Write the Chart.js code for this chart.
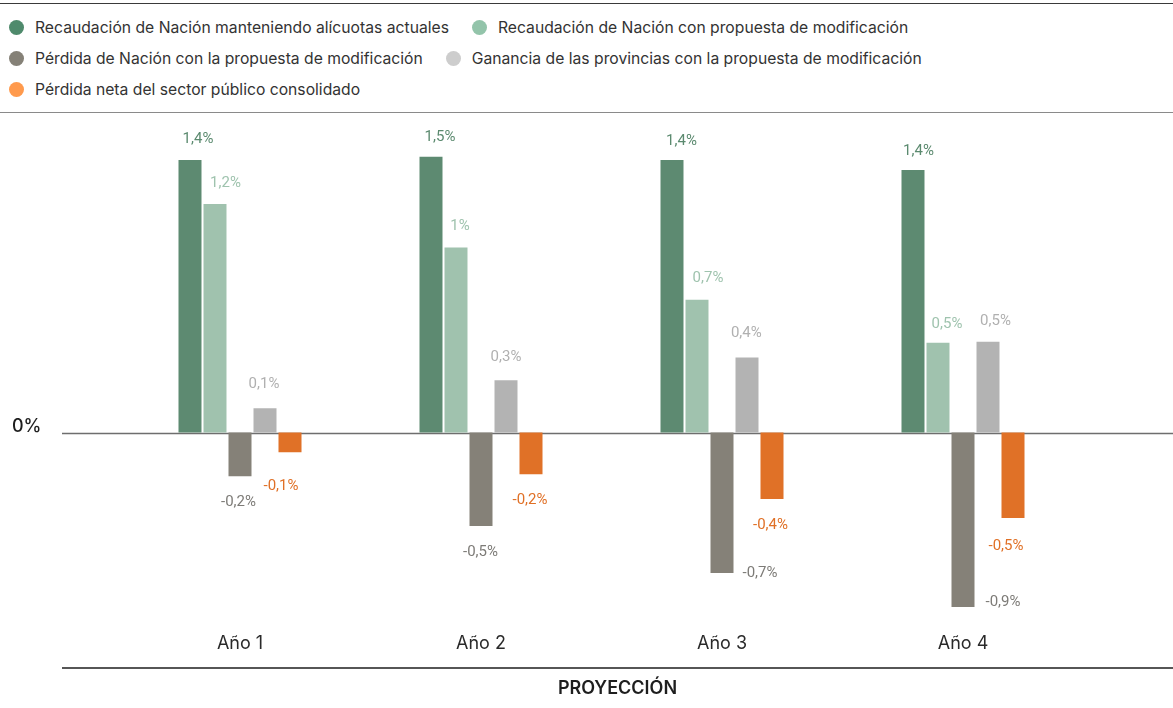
<!DOCTYPE html>
<html lang="es">
<head>
<meta charset="utf-8">
<title>Proyección de recaudación</title>
<script src="https://cdn.jsdelivr.net/npm/chart.js@4/dist/chart.umd.min.js"></script>
<style>
  html, body { margin: 0; padding: 0; background: #fff; }
  #page { position: relative; width: 1173px; height: 708px; overflow: hidden; font-family: Inter, "Noto Sans", sans-serif; }
  #legend {
    position: absolute; left: 0; top: 3px; width: 1173px; height: 110px;
    border-top: 1.5px solid #3a3a3a; border-bottom: 1.5px solid #8a8a8a;
    box-sizing: border-box; padding: 13px 0 0 9px;
    display: flex; flex-wrap: wrap; align-content: flex-start; row-gap: 11px;
  }
  .item { display: flex; align-items: center; height: 20px; margin-right: 23px; font-size: 15.7px; color: #333; white-space: nowrap; }
  .dot { width: 15px; height: 15px; border-radius: 50%; margin-right: 11px; flex: none; }
  #wrap { position: absolute; left: 0; top: 116px; width: 1173px; height: 592px; }
</style>
</head>
<body>
<div id="page">
  <div id="legend"></div>
  <div id="wrap"><canvas id="chart"></canvas></div>
</div>
<script>
// Years of the projection
const categories = ['Año 1', 'Año 2', 'Año 3', 'Año 4'];

// Series names
const seriesNames = [
  'Recaudación de Nación manteniendo alícuotas actuales',
  'Recaudación de Nación con propuesta de modificación',
  'Pérdida de Nación con la propuesta de modificación',
  'Ganancia de las provincias con la propuesta de modificación',
  'Pérdida neta del sector público consolidado'
];

// Values, % of GDP
const recaudacionActual = [1.441, 1.458, 1.441, 1.388];
const recaudacionPropuesta = [1.208, 0.978, 0.702, 0.475];
const perdidaNacion = [-0.231, -0.494, -0.742, -0.922];
const gananciaProvincias = [0.128, 0.276, 0.396, 0.480];
const perdidaNeta = [-0.104, -0.220, -0.352, -0.452];

// Only the zero tick is labelled on the value axis
const yTickValues = [0];

const seriesValues = [recaudacionActual, recaudacionPropuesta, perdidaNacion, gananciaProvincias, perdidaNeta];

// Styling per series: bar colour, label colour, legend dot colour
const seriesStyle = [
  { bar: '#5d8a71', label: '#5b8a6f', dot: '#4f8a6c' },
  { bar: '#a0c2ae', label: '#9fc3ae', dot: '#93c4aa' },
  { bar: '#858178', label: '#7d7b77', dot: '#858177' },
  { bar: '#b3b3b3', label: '#b0b0b0', dot: '#cdcdcd' },
  { bar: '#e07127', label: '#e07026', dot: '#ff9a4d' }
];

// Label nudges [dx, dy] from the bar end, per series and year
const labelNudge = [
  [[8, -21], [9, -19], [9.5, -18.5], [5.5, -18.5]],
  [[10.5, -21], [4, -21], [11, -21.5], [9, -18]],
  [[-1.5, 26], [-0.5, 26.5], [38, 0], [40, -5]],
  [[-1, -24], [0, -23], [-0.7, -24.5], [7.5, -20.5]],
  [[-9, 34], [-1, 26.5], [-1.5, 26.5], [-7, 28.5]]
];

function fmtPct(v) {
  const r = Math.round(v * 10) / 10;
  return String(r).replace('.', ',') + '%';
}

const frame = {
  id: 'frame',
  beforeDatasetsDraw(chart) {
    const { ctx, scales: { y } } = chart;
    const y0 = Math.round(y.getPixelForValue(0)) + 0.5;
    ctx.save();
    ctx.strokeStyle = '#6e6e6e';
    ctx.lineWidth = 1.5;
    ctx.beginPath();
    ctx.moveTo(62, y0);
    ctx.lineTo(chart.width, y0);
    ctx.stroke();
    ctx.restore();
  },
  afterDraw(chart) {
    const { ctx } = chart;
    ctx.save();
    ctx.strokeStyle = '#1e1e1e';
    ctx.lineWidth = 1.5;
    ctx.beginPath();
    ctx.moveTo(62, 552);
    ctx.lineTo(chart.width, 552);
    ctx.stroke();
    ctx.fillStyle = '#1e1e1e';
    ctx.font = '600 18px Inter, "Noto Sans", sans-serif';
    ctx.textAlign = 'center';
    ctx.textBaseline = 'middle';
    ctx.fillText('PROYECCIÓN', (62 + chart.width) / 2, 573);
    ctx.restore();
  }
};

const valueLabels = {
  id: 'valueLabels',
  afterDatasetsDraw(chart) {
    const { ctx } = chart;
    ctx.save();
    ctx.font = '15px Roboto, "Noto Sans", sans-serif';
    ctx.textAlign = 'center';
    ctx.textBaseline = 'middle';
    chart.data.datasets.forEach((ds, di) => {
      const meta = chart.getDatasetMeta(di);
      meta.data.forEach((el, i) => {
        const [dx, dy] = labelNudge[di][i];
        ctx.fillStyle = seriesStyle[di].label;
        ctx.fillText(fmtPct(ds.data[i]), el.x + dx, el.y + dy);
      });
    });
    ctx.restore();
  }
};

const chart = new Chart(document.getElementById('chart'), {
  type: 'bar',
  data: {
    labels: categories,
    datasets: seriesNames.map((name, i) => ({
      label: name,
      data: seriesValues[i],
      backgroundColor: seriesStyle[i].bar,
      borderWidth: 0,
      categoryPercentage: 0.5187,
      barPercentage: 0.92
    }))
  },
  options: {
    responsive: true,
    maintainAspectRatio: false,
    animation: false,
    layout: { padding: { left: 12, right: 89.5, top: 12.8, bottom: 55.3 } },
    plugins: { legend: { display: false }, tooltip: { enabled: false } },
    scales: {
      x: {
        grid: { display: false, drawTicks: false },
        border: { display: false },
        ticks: { color: '#2a2a2a', font: { size: 18, family: 'Inter, "Noto Sans", sans-serif' }, padding: 11 },
        afterFit(axis) { axis.height = 31; }
      },
      y: {
        min: -1,
        max: 1.6,
        grid: { display: false, drawTicks: false },
        border: { display: false },
        afterBuildTicks(axis) { axis.ticks = yTickValues.map(v => ({ value: v })); },
        afterFit(axis) { axis.width = 107.5; },
        ticks: {
          crossAlign: 'far',
          labelOffset: -6,
          color: '#1e1e1e',
          font: { size: 18, weight: '500', family: 'Inter, "Noto Sans", sans-serif' },
          callback: v => v + '%'
        }
      }
    }
  },
  plugins: [frame, valueLabels]
});

// Legend built from the chart's datasets
const legendEl = document.getElementById('legend');
chart.data.datasets.forEach((ds, i) => {
  const item = document.createElement('div');
  item.className = 'item';
  const dot = document.createElement('span');
  dot.className = 'dot';
  dot.style.background = seriesStyle[i].dot;
  const txt = document.createElement('span');
  txt.textContent = ds.label;
  item.appendChild(dot);
  item.appendChild(txt);
  legendEl.appendChild(item);
});
</script>
</body>
</html>
